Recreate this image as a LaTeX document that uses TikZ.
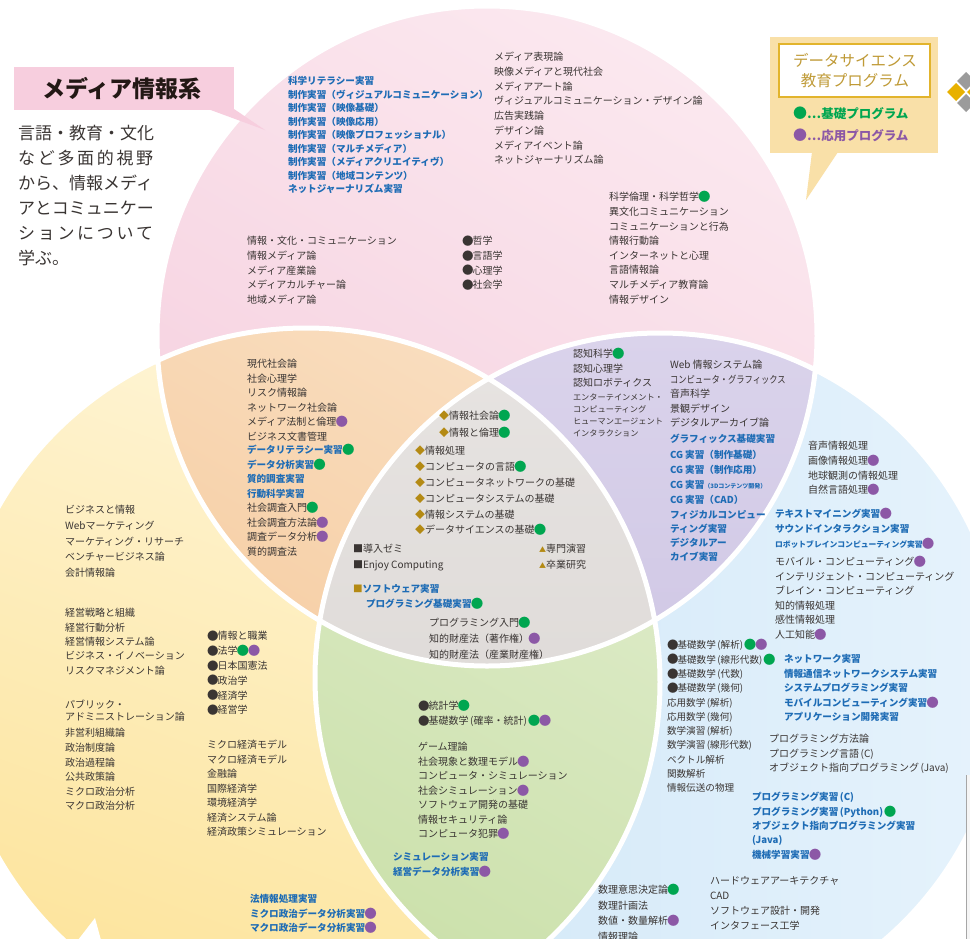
\documentclass[tikz,border=0pt]{standalone}
\usepackage{fontspec}
\setmainfont{Noto Sans CJK JP}
\definecolor{tgray}{HTML}{3A3533}
\definecolor{tblue}{HTML}{1E6CB5}
\definecolor{dgreen}{HTML}{00A650}
\definecolor{dpurple}{HTML}{8C58A6}
\definecolor{dgold}{HTML}{B48A14}
\definecolor{pinkA}{HTML}{FBE8EF}
\definecolor{pinkB}{HTML}{F6D0DF}
\definecolor{yelA}{HTML}{FEF6DA}
\definecolor{yelB}{HTML}{FDE49C}
\definecolor{bluA}{HTML}{E6F3FC}
\definecolor{bluB}{HTML}{CFE6F7}
\definecolor{oraA}{HTML}{F9DDBE}
\definecolor{oraB}{HTML}{F4C08C}
\definecolor{purA}{HTML}{DAD3EB}
\definecolor{purB}{HTML}{C6BCDF}
\definecolor{graA}{HTML}{E7E4E2}
\definecolor{graB}{HTML}{D8D3D0}
\definecolor{greA}{HTML}{E6F0D6}
\definecolor{greB}{HTML}{CCE1AC}
\definecolor{titlepink}{HTML}{F7CEDE}
\definecolor{legbg}{HTML}{F9E0A8}
\definecolor{leggold}{HTML}{E2B42C}
\definecolor{legtext}{HTML}{BF9A36}
\definecolor{logogray}{HTML}{9B9B9B}
\definecolor{logoyel}{HTML}{E8B100}
\definecolor{titletext}{HTML}{231815}
\newcommand\gd{\hspace{-0.8pt}\textcolor{dgreen}{\raisebox{-1pt}{\fontsize{12.5}{12}\selectfont ●}}\hspace{-0.6pt}}
\newcommand\pd{\hspace{-0.8pt}\textcolor{dpurple}{\raisebox{-1pt}{\fontsize{12.5}{12}\selectfont ●}}\hspace{-0.6pt}}
\newcommand\bk{\raisebox{-0.6pt}{\fontsize{11.5}{12}\selectfont ●}\hspace{-1pt}}
\newcommand\dm{\textcolor{dgold}{◆}}
\newcommand\tri{\textcolor{dgold}{\fontsize{7}{8}\selectfont▲}}
\newcommand\op{\,(}
\newcommand\cp{)\,}
\tikzset{
  txt/.style={anchor=base west, inner sep=0pt, outer sep=0pt, text=tgray,
    font=\fontsize{10}{12}\selectfont, yshift=-3.8pt},
  bt/.style={text=tblue, font=\fontsize{9.6}{12}\selectfont\bfseries},
  sm/.style={font=\fontsize{8.2}{10}\selectfont},
  nar/.style={font=\fontsize{9.6}{11}\selectfont},
  xs/.style={font=\fontsize{7.8}{10}\selectfont\bfseries},
  desc/.style={anchor=base west, inner sep=0pt, text=tgray, font=\fontsize{17}{20}\selectfont}
}
\newcommand\tlines[5]{\foreach \myl [count=\myi from 0] in {#5}{\node[txt,#4] at (#1,{#2+#3*\myi}) {\myl};}}
\begin{document}
\begin{tikzpicture}[x=1pt,y=-1pt]
\useasboundingbox (0,0) rectangle (970,938);
\fill[white] (0,0) rectangle (970,938);
\begin{scope}
\clip (0,0) rectangle (970,938);
% base circles
\shade[top color=yelA, bottom color=yelB, shading angle=-20] (306,682) circle[radius=354pt];
\shade[left color=bluB, right color=bluA] (660,678) circle[radius=345pt];
\shade[top color=pinkA, bottom color=pinkB, shading angle=-30] (487,336) circle[radius=330pt];
\begin{scope}
  \clip (487,336) circle[radius=330pt];
  \shade[top color=oraA, bottom color=oraB, shading angle=-30] (306,682) circle[radius=354pt];
  \shade[top color=purA, bottom color=purB] (660,678) circle[radius=345pt];
\end{scope}
\begin{scope}
  \clip (306,682) circle[radius=354pt];
  \shade[top color=greA, bottom color=greB, shading angle=-30] (660,678) circle[radius=345pt];
  \clip (487,336) circle[radius=330pt];
  \shade[top color=graA, bottom color=graB] (660,678) circle[radius=345pt];
\end{scope}
\draw[white, line width=5pt] (487,336) circle[radius=330pt] (306,682) circle[radius=354pt] (660,678) circle[radius=345pt];
% right edge panel
\fill[black!4] (966,775) rectangle (972,940);
\draw[black!35, line width=0.8pt] (966.4,775) -- (966.4,940);
% pointer tip at bottom left
\fill[white] (78,940) -- (101,940) -- (95,918) -- cycle;
\end{scope}

% title box
\fill[titlepink] (14,67) rectangle (234,110);
\fill[titlepink] (208,109) -- (234,109) -- (265,130) -- cycle;
\node[text=titletext, font=\fontsize{23}{26}\selectfont\bfseries] (title) at (122,89) {メディア情報系};
\node[desc] (d1) at (18,139.5) {言語・教育・文化};
\node[desc] (d2) at (18,164.5) {\makebox[135pt][s]{な\hfill ど\hfill 多\hfill 面\hfill 的\hfill 視\hfill 野}};
\node[desc] (d3) at (18,189.5) {から、情報メディ};
\node[desc] (d4) at (18,214.5) {アとコミュニケー};
\node[desc] (d5) at (18,239.5) {\makebox[135pt][s]{シ\hfill ョ\hfill ン\hfill に\hfill つ\hfill い\hfill て}};
\node[desc] (d6) at (18,264.5) {学ぶ。};

% legend
\fill[legbg] (770,37) rectangle (938,153);
\fill[legbg] (812,152) -- (838,152) -- (806,200) -- cycle;
\draw[leggold, line width=1.3pt, fill=white] (779,44) rectangle (930,97);
\node[text=legtext, font=\fontsize{15.5}{18}\selectfont] (lg1) at (855,60) {データサイエンス};
\node[text=legtext, font=\fontsize{15.5}{18}\selectfont] (lg2) at (855,81) {教育プログラム};
\node[anchor=west, inner sep=0, font=\fontsize{12.5}{14}\selectfont\bfseries, text=dgreen] (lg3) at (793,113) {{\fontsize{14}{14}\selectfont ●}…基礎プログラム};
\node[anchor=west, inner sep=0, font=\fontsize{12.5}{14}\selectfont\bfseries, text=dpurple] (lg4) at (793,135) {{\fontsize{14}{14}\selectfont ●}…応用プログラム};
% logo
\fill[logoyel] (956,83) -- (965,92) -- (956,101) -- (947,92) -- cycle;
\fill[logogray] (966,72) -- (975,81) -- (966,90) -- (957,81) -- cycle;
\fill[logogray] (966,94) -- (975,103) -- (966,112) -- (957,103) -- cycle;
\fill[logoyel] (976,83) -- (985,92) -- (976,101) -- (967,92) -- cycle;

% ---------- pink ----------
\tlines{288}{81}{13.5}{bt}{科学リテラシー実習,制作実習（ヴィジュアルコミュニケーション）,制作実習（映像基礎）,制作実習（映像応用）,制作実習（映像プロフェッショナル）,制作実習（マルチメディア）,制作実習（メディアクリエイティヴ）,制作実習（地域コンテンツ）,ネットジャーナリズム実習}
\tlines{494}{57}{14.7}{}{メディア表現論,映像メディアと現代社会,メディアアート論,ヴィジュアルコミュニケーション・デザイン論,広告実践論,デザイン論,メディアイベント論,ネットジャーナリズム論}
\tlines{609}{197}{14.6}{}{科学倫理・科学哲学\gd,異文化コミュニケーション,コミュニケーションと行為,情報行動論,インターネットと心理,言語情報論,マルチメディア教育論,情報デザイン}
\tlines{247}{241}{14.6}{}{情報・文化・コミュニケーション,情報メディア論,メディア産業論,メディアカルチャー論,地域メディア論}
\tlines{462}{241}{14.6}{}{\bk 哲学,\bk 言語学,\bk 心理学,\bk 社会学}

% ---------- orange ----------
\tlines{247}{364}{14.45}{}{現代社会論,社会心理学,リスク情報論,ネットワーク社会論,メディア法制と倫理\pd,ビジネス文書管理}
\tlines{247}{450}{14.45}{bt}{データリテラシー実習\gd,データ分析実習\gd,質的調査実習,行動科学実習}
\tlines{247}{508}{14.45}{}{社会調査入門\gd,社会調査方法論\pd,調査データ分析\pd,質的調査法}

% ---------- center ----------
\tlines{439}{416}{16.5}{}{\dm 情報社会論\gd,\dm 情報と倫理\gd}
\tlines{415}{451}{15.8}{}{\dm 情報処理,\dm コンピュータの言語\gd,\dm コンピュータネットワークの基礎,\dm コンピュータシステムの基礎,\dm 情報システムの基礎,\dm データサイエンスの基礎\gd}
\tlines{353}{549}{16}{}{■導入ゼミ,■Enjoy Computing}
\tlines{539}{549}{16}{}{\tri 専門演習,\tri 卒業研究}
\node[txt,bt] (sw) at (353,589) {\textcolor{dgold}{■}ソフトウェア実習};
\node[txt,bt] (pk) at (366,604) {プログラミング基礎実習\gd};
\tlines{429}{623}{16}{}{プログラミング入門\gd,知的財産法（著作権）\pd,知的財産法（産業財産権）}

% ---------- purple ----------
\tlines{573}{354}{14.5}{}{認知科学\gd,認知心理学,認知ロボティクス}
\tlines{573}{397}{11.8}{sm}{エンターテインメント・,コンピューティング,ヒューマンエージェント,インタラクション}
\tlines{670}{365}{14.4}{}{Web 情報システム論,\scalebox{0.83}[1]{コンピュータ・グラフィックス},音声科学,景観デザイン,デジタルアーカイブ論}
\tlines{670}{439}{15.2}{bt}{グラフィックス基礎実習,CG 実習（制作基礎）,CG 実習（制作応用）,CG 実習{\fontsize{6}{7}\selectfont（3Dコンテンツ開発）},CG 実習（CAD）}
\tlines{670}{515}{13.5}{bt}{フィジカルコンピュー,ティング実習}
\tlines{670}{543}{13.5}{bt}{デジタルアー,カイブ実習}

% ---------- yellow ----------
\tlines{65}{510}{15.7}{}{ビジネスと情報,Webマーケティング,マーケティング・リサーチ,ベンチャービジネス論,会計情報論}
\tlines{65}{613}{14.3}{}{経営戦略と組織,経営行動分析,経営情報システム論,ビジネス・イノベーション,リスクマネジメント論}
\tlines{65}{705}{12}{}{パブリック・,アドミニストレーション論}
\tlines{65}{733}{14.6}{}{非営利組織論,政治制度論,政治過程論,公共政策論,ミクロ政治分析,マクロ政治分析}
\tlines{207}{636}{14.8}{}{\bk 情報と職業,\bk 法学\gd\pd,\bk 日本国憲法,\bk 政治学,\bk 経済学,\bk 経営学}
\tlines{207}{745}{14.5}{}{ミクロ経済モデル,マクロ経済モデル,金融論,国際経済学,環境経済学,経済システム論,経済政策シミュレーション}
\tlines{250}{899}{14.5}{bt}{法情報処理実習,ミクロ政治データ分析実習\pd,マクロ政治データ分析実習\pd}

% ---------- green ----------
\tlines{418}{706}{15}{}{\bk 統計学\gd,\bk 基礎数学\op 確率・統計\cp\gd\pd}
\tlines{418}{747}{14.5}{}{ゲーム理論,社会現象と数理モデル\pd,コンピュータ・シミュレーション,社会シミュレーション\pd,ソフトウェア開発の基礎,情報セキュリティ論,コンピュータ犯罪\pd}
\tlines{393}{857}{15}{bt}{シミュレーション実習,経営データ分析実習\pd}

% ---------- blue ----------
\tlines{808}{446}{14.7}{}{音声情報処理,画像情報処理\pd,地球観測の情報処理,自然言語処理\pd}
\tlines{775}{514}{15}{bt}{テキストマイニング実習\pd,サウンドインタラクション実習}
\node[txt,xs,text=tblue] (rb) at (775,544) {ロボットブレインコンピューティング実習\pd};
\tlines{775}{562}{14.5}{}{モバイル・コンピューティング\pd,インテリジェント・コンピューティング,ブレイン・コンピューティング,知的情報処理,感性情報処理,人工知能\pd}
\tlines{667}{645}{14.3}{nar}{\bk 基礎数学\op 解析\cp\gd\pd,\bk 基礎数学\op 線形代数\cp\gd,\bk 基礎数学\op 代数\cp,\bk 基礎数学\op 幾何\cp,応用数学\op 解析\cp,応用数学\op 幾何\cp,数学演習\op 解析\cp,数学演習\op 線形代数\cp,ベクトル解析,関数解析,情報伝送の物理}
\tlines{784}{659}{14.5}{bt}{ネットワーク実習,情報通信ネットワークシステム実習,システムプログラミング実習,モバイルコンピューティング実習\pd,アプリケーション開発実習}
\tlines{769}{739}{14.2}{}{プログラミング方法論,プログラミング言語\op C\cp,オブジェクト指向プログラミング\op Java\cp}
\tlines{752}{797}{14.3}{bt}{プログラミング実習\op C\cp,プログラミング実習\op Python\cp\gd,オブジェクト指向プログラミング実習,(Java),機械学習実習\pd}
\tlines{598}{890}{15.5}{}{数理意思決定論\gd,数理計画法,数値・数量解析\pd,情報理論}
\tlines{710}{881}{15}{}{ハードウェアアーキテクチャ,CAD,ソフトウェア設計・開発,インタフェース工学}
\end{tikzpicture}
\end{document}
